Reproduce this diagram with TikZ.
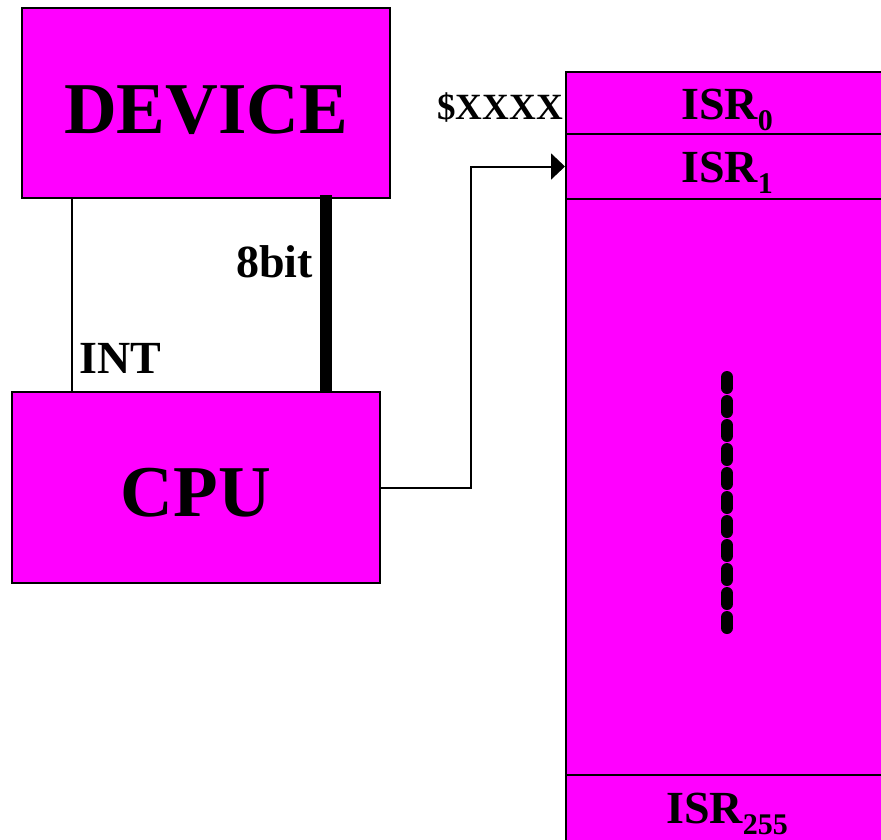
\documentclass[tikz,border=0pt]{standalone}
\usepackage{fontspec}
\setmainfont{Liberation Serif}
\usetikzlibrary{arrows.meta, positioning, calc}
\definecolor{hotpink}{RGB}{255,0,255}
\tikzset{
	unitbox/.style={draw, line width=2pt, fill=hotpink, minimum width=368pt, minimum height=190pt, text depth=0pt, font=\bfseries\fontsize{73}{80}\selectfont},
	isrbox/.style={draw, line width=2pt, fill=hotpink, minimum width=322pt, text height=32pt, text depth=0pt, font=\bfseries\fontsize{46}{50}\selectfont},
	sigline/.style={line width=#1},
	tag/.style={font=\bfseries\fontsize{46}{50}\selectfont, inner sep=0pt},
}
\newcommand{\isrsub}[1]{\raisebox{-11pt}{\fontsize{30}{32}\selectfont #1}}

\begin{document}
\begin{tikzpicture}[x=1pt, y=-1pt, >=Stealth]
	\useasboundingbox (0,0) rectangle (881,839);
	\clip (0,0) rectangle (881,839);

	% Device and CPU
	\node[unitbox, text height=60pt] (device) at (206,103) {DEVICE};
	\node[unitbox, minimum height=191pt, text height=57pt] (cpu) at (196,487.5) {CPU};

	% Vector table
	\node[isrbox, minimum height=62pt] (isr0) at (727,103) {ISR\isrsub{0}};
	\node[isrbox, minimum height=65pt] (isr1) at (727,166.5) {ISR\isrsub{1}};
	\node[isrbox, minimum height=576pt] (isrmid) at (727,487) {};
	\node[isrbox, minimum height=75pt, text height=21pt] (isr255) at (727,812.5) {ISR\isrsub{255}};

	% Dots
	\draw[line width=12pt, line cap=round, dash pattern=on 11pt off 13pt] ($(isrmid.north)+(0,179)$) -- ($(isrmid.north)+(0,430)$);

	% Signals
	\draw[sigline=2pt] ($(device.south west)+(51,0)$) -- ($(cpu.north west)+(61,0)$);
	\draw[sigline=12pt] ($(device.south west)+(305,-4)$) -- ($(cpu.north west)+(315,0)$);
	\draw[sigline=2pt, -{Triangle[length=14pt, width=26pt]}] (cpu.east) -- ++(90,0) |- (isr1.west);

	% Labels
	\node[tag, anchor=base west] (int) at (79,373) {INT};
	\node[tag, anchor=base east] (bus) at (313,277) {8bit};
	\node[tag, anchor=base east, font=\bfseries\fontsize{37}{40}\selectfont] (addr) at (563,119) {\$XXXX};
\end{tikzpicture}
\end{document}
